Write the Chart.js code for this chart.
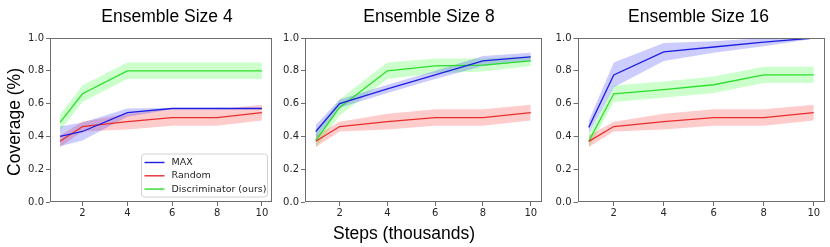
<!DOCTYPE html>
<html><head><meta charset="utf-8">
<script src="https://cdn.jsdelivr.net/npm/chart.js@4/dist/chart.umd.min.js"></script>
<style>
html,body{margin:0;padding:0;background:#fff;}
#wrap{position:relative;width:830px;height:247px;overflow:hidden;background:#fff;}
#wrap canvas{position:absolute;left:0;top:0;}
</style></head><body>
<div id="wrap">
<canvas id="c4" width="830" height="247"></canvas>
<canvas id="c8" width="830" height="247"></canvas>
<canvas id="c16" width="830" height="247"></canvas>
</div>
<script>
// ---------- data ----------
const steps = [1, 2, 4, 6, 8, 10];
const xTicks = [2, 4, 6, 8, 10];
const yTicks = [0, 0.2, 0.4, 0.6, 0.8, 1.0];
const seriesNames = ['MAX', 'Random', 'Discriminator (ours)'];
const panelTitles = ['Ensemble Size 4', 'Ensemble Size 8', 'Ensemble Size 16'];
const yLabel = 'Coverage (%)';
const xLabel = 'Steps (thousands)';

// Random (same in all panels)
const randomMean = [0.37, 0.46, 0.49, 0.515, 0.515, 0.545];
const randomErr  = [0.035, 0.03, 0.048, 0.05, 0.05, 0.048];

// Ensemble size 4
const max4Mean  = [0.40, 0.43, 0.545, 0.57, 0.57, 0.57];
const max4Err   = [0.06, 0.055, 0.025, 0.005, 0.005, 0.005];
const disc4Mean = [0.485, 0.66, 0.80, 0.80, 0.80, 0.80];
const disc4Err  = [0.05, 0.05, 0.05, 0.05, 0.05, 0.05];

// Ensemble size 8
const max8Mean  = [0.43, 0.60, 0.69, 0.775, 0.86, 0.885];
const max8Err   = [0.04, 0.025, 0.025, 0.025, 0.03, 0.025];
const disc8Mean = [0.375, 0.577, 0.80, 0.83, 0.835, 0.86];
const disc8Err  = [0.045, 0.05, 0.05, 0.045, 0.04, 0.03];

// Ensemble size 16
const max16Mean  = [0.455, 0.775, 0.915, 0.945, 0.975, 1.0];
const max16Err   = [0.04, 0.075, 0.055, 0.035, 0.025, 0.005];
const disc16Mean = [0.37, 0.66, 0.685, 0.715, 0.775, 0.775];
const disc16Err  = [0.04, 0.05, 0.05, 0.05, 0.05, 0.05];

// ---------- styles ----------
const lineColors = ['rgb(30,30,225)', 'rgb(232,45,45)', 'rgb(45,222,45)'];
const bandColors = ['rgba(0,0,255,0.2)', 'rgba(255,0,0,0.2)', 'rgba(0,255,0,0.2)'];
const TICK_FONT = {family: '"DejaVu Sans", sans-serif', size: 10};
const BIG_FONT = '17.5px "Liberation Sans", Arial, sans-serif';

const framePlugin = {
  id: 'frame',
  afterDraw(chart) {
    const a = chart.chartArea, ctx = chart.ctx;
    ctx.save();
    ctx.strokeStyle = '#6e6e6e';
    ctx.lineWidth = 1;
    const l = Math.round(a.left) + 0.5, t = Math.round(a.top) + 0.5;
    const r = Math.round(a.right) - 0.5, b = Math.round(a.bottom) - 0.5;
    ctx.strokeRect(l, t, r - l, b - t);
    ctx.restore();
  }
};

const textPlugin = {
  id: 'panelText',
  afterDraw(chart, args, opts) {
    const ctx = chart.ctx;
    (opts.items || []).forEach(it => {
      ctx.save();
      ctx.font = it.font;
      ctx.fillStyle = it.color || '#000';
      ctx.textAlign = 'center';
      ctx.textBaseline = 'alphabetic';
      ctx.translate(it.x, it.y);
      if (it.rotate) ctx.rotate(it.rotate);
      ctx.fillText(it.text, 0, 0);
      ctx.restore();
    });
  }
};

const boxLegendPlugin = {
  id: 'boxLegend',
  afterDatasetsDraw(chart, args, opts) {
    if (!opts.show) return;
    const ctx = chart.ctx;
    const a = chart.chartArea;
    const x = opts.left, y = opts.top, w = opts.width, h = opts.height;
    ctx.save();
    ctx.beginPath();
    const r = 3;
    ctx.moveTo(x + r, y); ctx.lineTo(x + w - r, y); ctx.quadraticCurveTo(x + w, y, x + w, y + r);
    ctx.lineTo(x + w, y + h - r); ctx.quadraticCurveTo(x + w, y + h, x + w - r, y + h);
    ctx.lineTo(x + r, y + h); ctx.quadraticCurveTo(x, y + h, x, y + h - r);
    ctx.lineTo(x, y + r); ctx.quadraticCurveTo(x, y, x + r, y);
    ctx.closePath();
    ctx.fillStyle = 'rgba(255,255,255,0.85)';
    ctx.fill();
    ctx.strokeStyle = '#d2d2d2';
    ctx.lineWidth = 1;
    ctx.stroke();
    const mains = chart.data.datasets.filter(d => d.isMain);
    ctx.font = opts.font;
    ctx.textBaseline = 'middle';
    ctx.textAlign = 'left';
    mains.forEach((d, i) => {
      const cy = y + opts.firstRow + i * opts.rowGap;
      ctx.beginPath();
      ctx.strokeStyle = d.borderColor;
      ctx.lineWidth = 1.4;
      ctx.moveTo(x + opts.lineStart, cy);
      ctx.lineTo(x + opts.lineStart + opts.lineLen, cy);
      ctx.stroke();
      ctx.fillStyle = '#262626';
      ctx.fillText(d.label, x + opts.textStart, cy);
    });
    ctx.restore();
  }
};

function buildDatasets(means, errs) {
  const ds = [];
  means.forEach((m, k) => {
    ds.push({
      label: seriesNames[k], isMain: true,
      data: steps.map((s, i) => ({x: s, y: m[i]})),
      borderColor: lineColors[k], borderWidth: 1.3,
      pointRadius: 0, fill: false, tension: 0, order: 0
    });
  });
  means.forEach((m, k) => {
    const upIdx = ds.length;
    ds.push({
      label: seriesNames[k] + ' upper',
      data: steps.map((s, i) => ({x: s, y: m[i] + errs[k][i]})),
      borderWidth: 0, borderColor: 'rgba(0,0,0,0)', pointRadius: 0, fill: false, order: 1
    });
    ds.push({
      label: seriesNames[k] + ' lower',
      data: steps.map((s, i) => ({x: s, y: m[i] - errs[k][i]})),
      borderWidth: 0, borderColor: 'rgba(0,0,0,0)', pointRadius: 0,
      fill: upIdx, backgroundColor: bandColors[k], order: 1
    });
  });
  return ds;
}

const Y_AXIS_W = 30, X_AXIS_H = 20;
function makeChart(id, datasets, area, texts, legend) {
  return new Chart(document.getElementById(id), {
    type: 'line',
    data: {datasets},
    options: {
      responsive: false, animation: false, events: [],
      layout: {padding: {left: area.left - Y_AXIS_W, right: 830 - area.right, top: area.top, bottom: 247 - area.bottom - X_AXIS_H}},
      scales: {
        x: {
          type: 'linear', min: 0.55, max: 10.45,
          afterBuildTicks: s => { s.ticks = xTicks.map(v => ({value: v})); },
          afterFit: s => { s.height = X_AXIS_H; },
          grid: {display: true, drawOnChartArea: false, drawTicks: true, tickLength: 4, color: '#6e6e6e'},
          border: {display: false},
          ticks: {font: TICK_FONT, color: '#262626', padding: 1, maxRotation: 0, autoSkip: false,
                  callback: v => String(v)}
        },
        y: {
          type: 'linear', min: 0, max: 1,
          afterBuildTicks: s => { s.ticks = yTicks.map(v => ({value: v})); },
          afterFit: s => { s.width = Y_AXIS_W; },
          grid: {display: true, drawOnChartArea: false, drawTicks: true, tickLength: 4, color: '#6e6e6e'},
          border: {display: false},
          ticks: {font: TICK_FONT, color: '#262626', padding: 2, callback: v => v.toFixed(1)}
        }
      },
      plugins: {
        legend: {display: false}, tooltip: {enabled: false}, title: {display: false},
        panelText: {items: texts},
        boxLegend: legend || {show: false}
      }
    },
    plugins: [framePlugin, textPlugin, boxLegendPlugin]
  });
}

makeChart('c4',
  buildDatasets([max4Mean, randomMean, disc4Mean], [max4Err, randomErr, disc4Err]),
  {left: 50, right: 272, top: 38, bottom: 202},
  [
    {text: panelTitles[0], x: 167, y: 21.5, font: BIG_FONT},
    {text: yLabel, x: 20, y: 122, font: BIG_FONT, rotate: -Math.PI / 2}
  ],
  {show: true, left: 141.5, top: 154, width: 126, height: 43, firstRow: 8.5, rowGap: 13.3,
   lineStart: 3, lineLen: 20, textStart: 30, font: '9.5px "DejaVu Sans", sans-serif'}
);

makeChart('c8',
  buildDatasets([max8Mean, randomMean, disc8Mean], [max8Err, randomErr, disc8Err]),
  {left: 305, right: 541.5, top: 38, bottom: 202},
  [
    {text: panelTitles[1], x: 429, y: 21.5, font: BIG_FONT},
    {text: xLabel, x: 404, y: 238.5, font: BIG_FONT}
  ]
);

makeChart('c16',
  buildDatasets([max16Mean, randomMean, disc16Mean], [max16Err, randomErr, disc16Err]),
  {left: 577.5, right: 825, top: 38, bottom: 202},
  [
    {text: panelTitles[2], x: 698.5, y: 21.5, font: BIG_FONT}
  ]
);
</script>
</body></html>
